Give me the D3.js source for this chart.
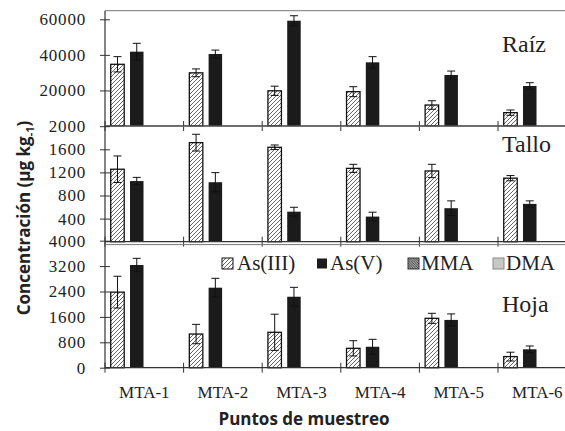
<!DOCTYPE html>
<html>
<head>
<meta charset="utf-8">
<script src="https://cdn.jsdelivr.net/npm/d3@7"></script>
<style>
  body { margin: 0; background: #fff; }
  svg { display: block; }
</style>
</head>
<body>
<svg id="chart" width="565" height="431"></svg>
<script>
// categories and series
const categories = ["MTA-1", "MTA-2", "MTA-3", "MTA-4", "MTA-5", "MTA-6"];
const seriesNames = ["As(III)", "As(V)", "MMA", "DMA"];

// Raíz
const raizAsIII  = [34700, 29900, 19800, 19300, 11800, 7500];
const raizAsV    = [41800, 40500, 59200, 35800, 28700, 22500];
const raizMMA    = [0, 0, 0, 0, 0, 0];
const raizDMA    = [0, 0, 0, 0, 0, 0];
const raizErrIII = [4300, 2200, 2600, 2800, 2400, 1500];
const raizErrV   = [4700, 2200, 2800, 3200, 2200, 1850];

// Tallo
const talloAsIII  = [1255, 1715, 1635, 1270, 1225, 1100];
const talloAsV    = [1050, 1030, 520, 435, 580, 655];
const talloMMA    = [0, 0, 0, 0, 0, 0];
const talloDMA    = [0, 0, 0, 0, 0, 0];
const talloErrIII = [230, 145, 40, 70, 115, 45];
const talloErrV   = [64, 166, 76, 76, 127, 52];

// Hoja
const hojaAsIII  = [2380, 1060, 1115, 610, 1555, 350];
const hojaAsV    = [3235, 2520, 2235, 660, 1505, 580];
const hojaMMA    = [0, 0, 0, 0, 0, 0];
const hojaDMA    = [0, 0, 0, 0, 0, 0];
const hojaErrIII = [500, 305, 570, 240, 158, 138];
const hojaErrV   = [210, 295, 296, 234, 189, 104];

// tick labels
const raizTicks  = [20000, 40000, 60000];
const talloTicks = [400, 800, 1200, 1600, 2000];
const hojaTicks  = [0, 800, 1600, 2400, 3200, 4000];

const svg = d3.select("#chart");
const serif = "'Liberation Serif', 'Times New Roman', serif";
const sans = "'Open Sans', 'Noto Sans', sans-serif";

const left = 105, right = 576.6;

// patterns
const defs = svg.append("defs");
const hatch = defs.append("pattern").attr("id", "hatch")
    .attr("patternUnits", "userSpaceOnUse").attr("width", 4).attr("height", 4);
hatch.append("rect").attr("width", 4).attr("height", 4).attr("fill", "#fff");
hatch.append("path").attr("d", "M-1,1 l2,-2 M0,4 l4,-4 M3,5 l2,-2")
    .attr("stroke", "#555").attr("stroke-width", 0.9);

const dense = defs.append("pattern").attr("id", "dense")
    .attr("patternUnits", "userSpaceOnUse").attr("width", 2.5).attr("height", 2.5);
dense.append("rect").attr("width", 2.5).attr("height", 2.5).attr("fill", "#ddd");
dense.append("path").attr("d", "M-1,-1 l4.5,4.5 M-1,1.5 l2,2 M1.5,-1 l2,2")
    .attr("stroke", "#222").attr("stroke-width", 0.9);

const fills = { "As(III)": "url(#hatch)", "As(V)": "#1b1b1b", "MMA": "url(#dense)", "DMA": "#c8c8c8" };
const strokes = { "As(III)": "#111", "As(V)": "none", "MMA": "#333", "DMA": "#888" };

const x = d3.scaleBand().domain(categories).range([left, right]).padding(0);
const x1 = d3.scaleBand().domain(seriesNames).range([3.8, 79]).paddingInner(0.3).paddingOuter(0.1);

const panels = [
  { label: "Raíz",  values: [raizAsIII, raizAsV, raizMMA, raizDMA],   errors: [raizErrIII, raizErrV],
    max: 60000, ticks: raizTicks,  yMax: 19.3,  base: 126,   frame: 10.7,  labelY: 52 },
  { label: "Tallo", values: [talloAsIII, talloAsV, talloMMA, talloDMA], errors: [talloErrIII, talloErrV],
    max: 2000,  ticks: talloTicks, yMax: 126.2, base: 241.7, frame: 126.2, labelY: 152 },
  { label: "Hoja",  values: [hojaAsIII, hojaAsV, hojaMMA, hojaDMA],   errors: [hojaErrIII, hojaErrV],
    max: 4000,  ticks: hojaTicks,  yMax: 240.7, base: 367.7, frame: 244.6, labelY: 312 }
];

// y axis line through all panels
svg.append("line").attr("x1", left).attr("x2", left).attr("y1", 10.7).attr("y2", 368)
   .attr("stroke", "#333").attr("stroke-width", 1.2);

panels.forEach(p => {
  const y = d3.scaleLinear().domain([0, p.max]).range([p.base, p.yMax]);
  const g = svg.append("g");

  // frame top
  g.append("line").attr("x1", left).attr("x2", 565).attr("y1", p.frame).attr("y2", p.frame)
   .attr("stroke", "#777").attr("stroke-width", 1);

  // bars
  p.values.forEach((vals, si) => {
    const s = seriesNames[si];
    g.selectAll(null).data(vals).enter().append("rect")
     .attr("x", (d, i) => x(categories[i]) + x1(s))
     .attr("width", x1.bandwidth())
     .attr("y", d => y(d))
     .attr("height", d => y(0) - y(d))
     .attr("fill", fills[s])
     .attr("stroke", d => d > 0 ? strokes[s] : "none")
     .attr("stroke-width", 1.3);
  });

  // error bars
  p.errors.forEach((errs, si) => {
    const s = seriesNames[si];
    const vals = p.values[si];
    const cx = i => x(categories[i]) + x1(s) + x1.bandwidth() / 2;
    const eg = g.selectAll(null).data(errs).enter().append("g")
      .attr("stroke", "#111").attr("stroke-width", 1);
    eg.append("line").attr("x1", (d, i) => cx(i)).attr("x2", (d, i) => cx(i))
      .attr("y1", (d, i) => y(vals[i] - d)).attr("y2", (d, i) => y(vals[i] + d));
    eg.append("line").attr("x1", (d, i) => cx(i) - 4).attr("x2", (d, i) => cx(i) + 4)
      .attr("y1", (d, i) => y(vals[i] + d)).attr("y2", (d, i) => y(vals[i] + d));
    eg.append("line").attr("x1", (d, i) => cx(i) - 4).attr("x2", (d, i) => cx(i) + 4)
      .attr("y1", (d, i) => y(vals[i] - d)).attr("y2", (d, i) => y(vals[i] - d));
  });

  // x baseline with category boundary ticks
  g.append("line").attr("x1", left).attr("x2", 565).attr("y1", p.base).attr("y2", p.base)
   .attr("stroke", "#333").attr("stroke-width", 1.3);
  const bounds = categories.map(c => x(c)).concat([right]);
  g.selectAll(null).data(bounds).enter().append("line")
   .attr("x1", d => d).attr("x2", d => d)
   .attr("y1", p.base - 5).attr("y2", p.base + 5)
   .attr("stroke", "#333").attr("stroke-width", 1);

  // y axis ticks and labels
  const axis = g.append("g").attr("transform", `translate(${left},0)`)
    .call(d3.axisLeft(y).tickValues(p.ticks).tickSize(5).tickPadding(14).tickFormat(d3.format("d")));
  axis.select(".domain").remove();
  axis.selectAll(".tick line").attr("x1", 5).attr("x2", -5).attr("stroke", "#333");
  axis.selectAll(".tick text").attr("font-family", serif).attr("font-size", 17)
    .attr("letter-spacing", 0.8).attr("fill", "#222");

  // panel label
  g.append("text").attr("x", 502).attr("y", p.labelY)
   .attr("font-family", serif).attr("font-size", 24).attr("fill", "#222")
   .text(p.label);
});

// category labels
svg.append("g").attr("transform", "translate(0,368)")
   .call(d3.axisBottom(x).tickSize(0).tickPadding(18))
   .call(g => g.select(".domain").remove())
   .selectAll("text").attr("font-family", serif).attr("font-size", 17).attr("fill", "#222");

// legend
const legendX = [222, 317, 408, 493];
const leg = svg.append("g").selectAll("g").data(seriesNames).enter().append("g")
  .attr("transform", (d, i) => `translate(${legendX[i]},258)`);
leg.append("rect").attr("width", d => d === "As(V)" ? 10 : 11).attr("height", d => d === "As(V)" ? 10 : 11)
   .attr("y", d => d === "As(V)" ? 0.5 : 0)
   .attr("fill", d => fills[d]).attr("stroke", d => d === "As(V)" ? "none" : strokes[d]).attr("stroke-width", 1);
leg.append("text").attr("x", d => d === "As(III)" ? 15 : 13).attr("y", 12)
   .attr("font-family", serif).attr("font-size", 21).attr("fill", "#222")
   .text(d => d);

// axis titles
const yt = svg.append("text").attr("transform", "translate(30,218) rotate(-90)")
  .attr("text-anchor", "middle").attr("font-family", sans).attr("font-weight", "bold")
  .attr("font-size", 17).attr("fill", "#222");
yt.append("tspan").text("Concentración (µg kg");
yt.append("tspan").attr("font-size", 11).attr("dy", 4).text("-1");
yt.append("tspan").attr("dy", -4).text(")");

svg.append("text").attr("x", 304).attr("y", 425).attr("text-anchor", "middle")
   .attr("font-family", sans).attr("font-weight", "bold").attr("font-size", 17).attr("fill", "#222")
   .text("Puntos de muestreo");
</script>
</body>
</html>
